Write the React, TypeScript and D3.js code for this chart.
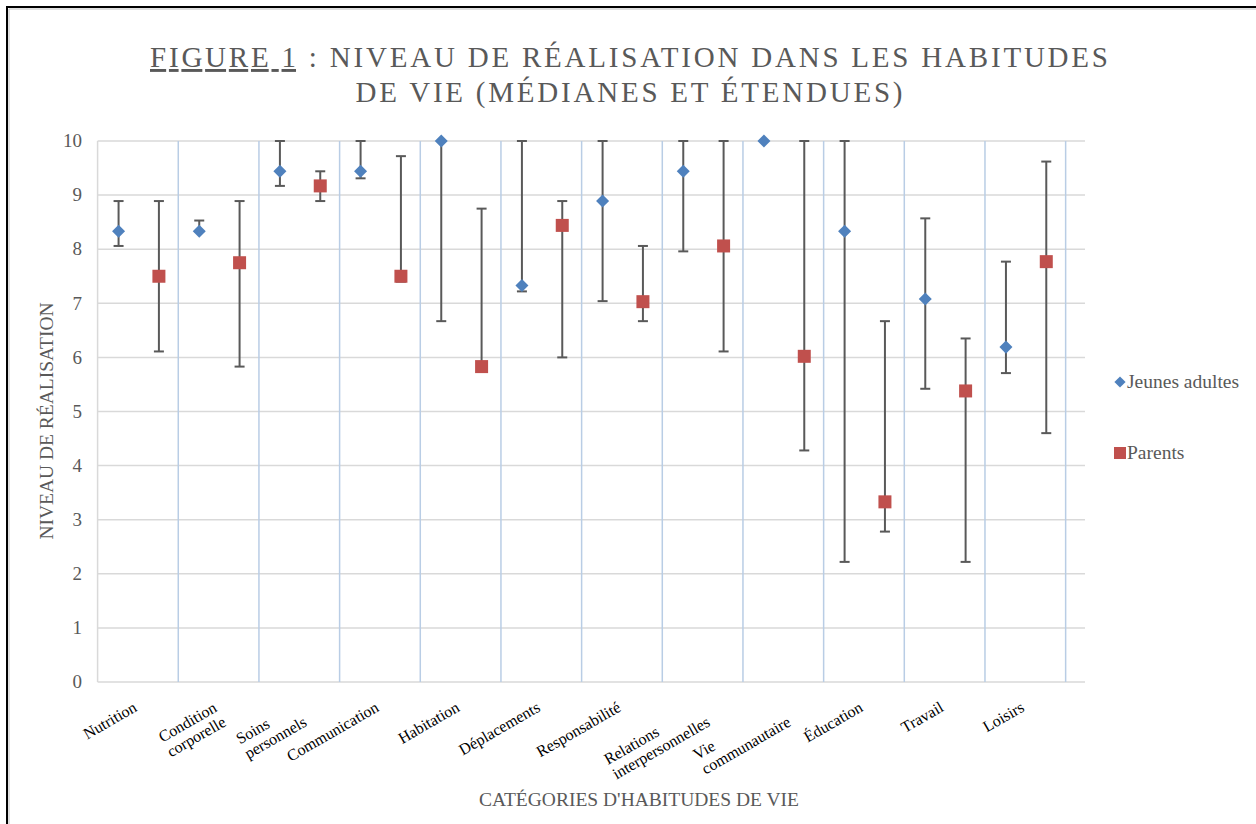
import React from 'react';
import * as d3 from 'd3';

// Catégories d'habitudes de vie (retour à la ligne = "\n")
const categories = [
  'Nutrition',
  'Condition\ncorporelle',
  'Soins\npersonnels',
  'Communication',
  'Habitation',
  'Déplacements',
  'Responsabilité',
  'Relations\ninterpersonnelles',
  'Vie\ncommunautaire',
  'Éducation',
  'Travail',
  'Loisirs',
];

// Jeunes adultes : médiane, minimum, maximum
const jeunesMedian = [8.33, 8.33, 9.44, 9.44, 10, 7.33, 8.89, 9.44, 10, 8.33, 7.08, 6.19];
const jeunesMin = [8.06, 8.33, 9.17, 9.31, 6.67, 7.22, 7.04, 7.96, 10, 2.22, 5.42, 5.71];
const jeunesMax = [8.89, 8.53, 10, 10, 10, 10, 10, 10, 10, 10, 8.57, 7.77];

// Parents : médiane, minimum, maximum
const parentsMedian = [7.5, 7.75, 9.17, 7.5, 5.83, 8.44, 7.03, 8.06, 6.02, 3.33, 5.38, 7.77];
const parentsMin = [6.11, 5.83, 8.89, 7.4, 5.83, 6.0, 6.67, 6.11, 4.28, 2.78, 2.22, 4.6];
const parentsMax = [8.89, 8.89, 9.44, 9.72, 8.75, 8.89, 8.06, 10, 10, 6.67, 6.35, 9.62];

const yTicks = [0, 1, 2, 3, 4, 5, 6, 7, 8, 9, 10];

const W = 1256;
const H = 824;
const FONT = '"Liberation Serif", "Times New Roman", serif';
const GREY = '#595959';
const BLUE = '#4f81bd';
const RED = '#c0504d';

const measure = (() => {
  let ctx: CanvasRenderingContext2D | null = null;
  return (txt: string, size: number) => {
    if (!ctx) ctx = document.createElement('canvas').getContext('2d');
    if (!ctx) return txt.length * size * 0.5;
    ctx.font = `${size}px "Liberation Serif"`;
    return ctx.measureText(txt).width;
  };
})();

export default function App() {
  const left = 97.6;
  const right = 1085;
  const top = 141;
  const bottom = 682;

  const x = d3.scaleLinear().domain([0, 12.24]).range([left, right]);
  const y = d3.scaleLinear().domain([0, 10]).range([bottom, top]);

  const series = [
    { name: 'Jeunes adultes', color: BLUE, shape: 'diamond', off: 0.26, med: jeunesMedian, lo: jeunesMin, hi: jeunesMax },
    { name: 'Parents', color: RED, shape: 'square', off: 0.76, med: parentsMedian, lo: parentsMin, hi: parentsMax },
  ];

  const diamond = d3.symbol().type(d3.symbolDiamond2).size(108)();
  const legendDiamond = d3.symbol().type(d3.symbolDiamond2).size(80)();
  const labelSize = 16;
  const lineH = 17;

  return (
    <svg
      width={W}
      height={H}
      style={{ position: 'absolute', left: 0, top: 0, background: '#fff' }}
      fontFamily={FONT}
    >
      {/* cadre */}
      <rect x={7} y={7} width={W + 10} height={H + 10} fill="none" stroke="#000" strokeWidth={2} />
      <path d={`M9,${H} V9 H${W}`} fill="none" stroke="#bfbfbf" strokeWidth={1} />

      {/* titre */}
      <text x={629} y={67} textAnchor="middle" fontSize={29} fill={GREY} textLength={958} lengthAdjust="spacing">
        <tspan textDecoration="underline">FIGURE 1</tspan> : NIVEAU DE RÉALISATION DANS LES HABITUDES
      </text>
      <text x={629} y={102} textAnchor="middle" fontSize={29} fill={GREY} textLength={547} lengthAdjust="spacing">
        DE VIE (MÉDIANES ET ÉTENDUES)
      </text>

      {/* grille horizontale */}
      {yTicks.map(t => (
        <line key={'h' + t} x1={left} x2={right} y1={y(t)} y2={y(t)} stroke="#d9d9d9" strokeWidth={1.5} />
      ))}
      {/* grille verticale */}
      {d3.range(1, categories.length + 1).map(i => (
        <line key={'v' + i} x1={x(i)} x2={x(i)} y1={top} y2={bottom} stroke="#b9cde5" strokeWidth={1.5} />
      ))}
      <line x1={left} x2={left} y1={top} y2={bottom} stroke="#d9d9d9" strokeWidth={1.5} />

      {/* graduations */}
      {yTicks.map(t => (
        <text key={'t' + t} x={82} y={y(t)} dy="0.33em" textAnchor="end" fontSize={19} fill={GREY}>
          {t}
        </text>
      ))}

      {/* étiquettes des catégories */}
      {categories.map((c, i) => {
        const lines = c.split('\n');
        const maxW = d3.max(lines, l => measure(l, labelSize)) || 0;
        const cx = x(i + 0.5) - 6;
        return (
          <g key={'c' + i} transform={`translate(${cx},${700}) rotate(-30)`}>
            {lines.map((l, j) => (
              <text key={j} x={-maxW} y={12 + j * lineH} fontSize={labelSize} fill="#000">
                {l}
              </text>
            ))}
          </g>
        );
      })}

      {/* titres des axes */}
      <text transform={`translate(53,421) rotate(-90)`} textAnchor="middle" fontSize={19.5} fill={GREY}>
        NIVEAU DE RÉALISATION
      </text>
      <text x={639} y={806} textAnchor="middle" fontSize={19.5} fill={GREY}>
        CATÉGORIES D'HABITUDES DE VIE
      </text>

      {/* barres d'étendue */}
      {series.map(s => (
        <g key={'e' + s.name} stroke="#595959" strokeWidth={2}>
          {categories.map((_, i) => {
            const px = x(i + s.off);
            return (
              <g key={i}>
                <line x1={px} x2={px} y1={y(s.lo[i])} y2={y(s.hi[i])} />
                <line x1={px - 5} x2={px + 5} y1={y(s.lo[i])} y2={y(s.lo[i])} />
                <line x1={px - 5} x2={px + 5} y1={y(s.hi[i])} y2={y(s.hi[i])} />
              </g>
            );
          })}
        </g>
      ))}

      {/* médianes */}
      {series.map(s => (
        <g key={'m' + s.name} fill={s.color}>
          {s.med.map((v, i) =>
            s.shape === 'diamond' ? (
              <path key={i} d={diamond || ''} transform={`translate(${x(i + s.off)},${y(v)})`} />
            ) : (
              <rect key={i} x={x(i + s.off) - 6.5} y={y(v) - 6.5} width={13} height={13} />
            )
          )}
        </g>
      ))}

      {/* légende */}
      {series.map((s, k) => {
        const ly = 382 + k * 71;
        return (
          <g key={'l' + s.name}>
            {s.shape === 'diamond' ? (
              <path d={legendDiamond || ''} transform={`translate(1120,${ly})`} fill={s.color} />
            ) : (
              <rect x={1114} y={ly - 6} width={12} height={12} fill={s.color} />
            )}
            <text x={1127} y={ly} dy="0.33em" fontSize={19.5} fill={GREY}>
              {s.name}
            </text>
          </g>
        );
      })}
    </svg>
  );
}
